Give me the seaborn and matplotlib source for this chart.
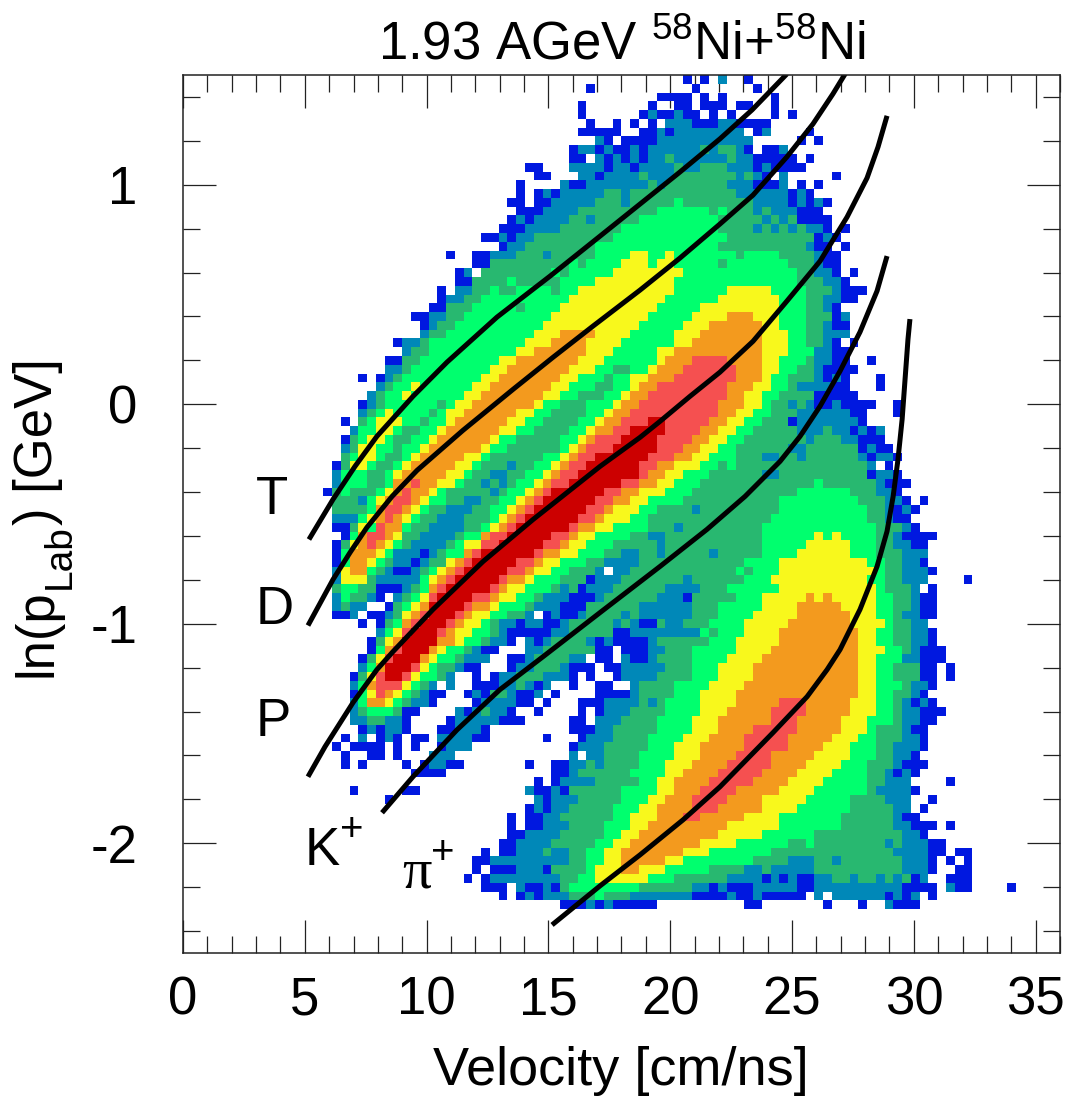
import numpy as np
import matplotlib
matplotlib.use("Agg")
import matplotlib.pyplot as plt
from matplotlib.colors import ListedColormap
import seaborn as sns

# histogram levels per row from the top, "first_bin:level" runs (0 = empty)
row_runs = [
    "57:1 58:0 59:1 60:0 61:2 62:0 64:1 65:0",
    "46:1 47:0 58:1 59:0 65:1 66:0",
    "54:1 58:0 59:1 60:0 61:1 62:0 67:1 68:0",
    "45:1 46:0 53:1 54:0 56:1 58:0 59:1 62:0 63:1 65:0 67:1 68:0",
    "45:1 46:0 52:1 53:2 54:1 56:2 57:1 59:0 60:1 61:0 62:1 63:0 67:1 68:0 69:1 70:0",
    "46:1 47:0 49:1 50:0 51:1 52:0 53:1 54:0 55:2 58:1 61:2 63:1 67:0",
    "45:1 50:0 52:1 54:2 55:1 56:2 64:0 65:1 66:2 67:0 71:1 72:0",
    "47:2 48:1 49:0 50:1 54:2 65:0 70:1 71:0 72:1 73:0",
    "44:1 45:2 47:1 48:2 49:1 51:2 52:1 53:2 59:3 60:2 61:3 63:2 64:1 65:0 66:1 68:2 69:0",
    "44:1 46:0 47:2 48:1 49:2 50:1 51:2 52:1 53:2 55:3 56:2 62:3 63:2 65:1 70:0 71:1 72:0",
    "39:1 41:0 44:2 48:1 49:2 51:1 52:2 56:3 57:2 59:3 62:2 65:1 66:2 67:1 71:0",
    "40:1 42:0 45:2 47:1 48:2 52:3 53:2 56:3 63:2 64:3 65:2 66:1 67:0 68:2 69:0 74:1 75:0",
    "38:1 39:0 43:2 44:1 46:2 53:3 54:2 55:3 62:2 65:1 68:2 69:0 70:1 71:0 72:1 73:0",
    "38:1 39:0 40:1 41:2 42:1 43:2 48:3 50:2 51:3 63:2 69:1 70:2 71:1 72:0",
    "37:1 39:0 40:1 42:2 47:3 50:2 51:3 56:4 57:3 65:2 69:1 70:2 71:1 72:2 73:1 74:0",
    "38:1 41:2 45:3 54:4 60:3 61:4 62:3 65:2 66:3 67:2 70:1 73:0",
    "37:1 38:2 39:1 40:2 44:3 46:2 47:3 52:4 61:3 66:2 67:3 68:2 69:3 70:1 74:0",
    "36:1 39:2 43:3 50:4 61:3 65:2 66:3 67:2 68:3 69:2 70:3 71:2 73:1 74:0 75:1 76:0",
    "34:1 36:2 37:1 38:2 40:3 49:4 62:3 72:1 73:2 74:1 75:0",
    "36:1 37:2 39:3 47:4 61:3 71:2 72:1 74:0 75:1 76:0",
    "30:1 31:0 33:1 35:2 38:3 41:2 42:3 47:4 51:5 53:4 55:5 56:4 63:3 64:4 68:3 72:2 73:1 75:0",
    "33:1 35:3 44:4 45:3 46:4 50:5 53:4 54:5 56:4 61:3 62:4 69:3 72:2 73:1 75:0",
    "31:1 32:2 33:0 34:3 42:4 43:3 44:4 49:5 57:4 70:3 72:2 74:1 75:0 76:1 77:0",
    "31:1 33:3 37:4 38:3 43:4 47:5 56:4 70:3 73:2 75:1 76:0",
    "29:1 30:0 31:2 33:3 35:4 36:3 38:4 42:3 43:4 45:5 56:4 62:5 67:4 71:3 74:2 75:1 78:0",
    "29:1 30:2 32:3 34:4 44:5 55:4 61:5 68:4 71:3 73:2 75:1 77:0",
    "28:1 30:3 33:4 38:3 39:4 43:5 54:4 59:5 68:4 71:3 73:2 74:1 75:0",
    "26:1 28:2 30:3 32:4 42:5 53:4 58:5 62:6 65:5 68:4 71:3 74:1 75:2 76:0",
    "27:1 28:2 29:3 31:4 41:5 52:4 57:5 60:6 66:5 68:4 71:3 73:2 74:1 76:0",
    "27:2 28:3 30:4 40:5 43:6 47:5 51:4 56:5 59:6 66:5 69:4 71:3 73:2 76:0",
    "24:1 25:2 27:3 28:4 39:5 42:6 46:5 50:4 56:5 58:6 66:5 69:4 71:3 73:2 74:1 75:0 76:1 77:0",
    "25:2 26:3 28:4 38:5 40:6 46:5 49:4 54:5 56:6 66:5 69:4 72:2 74:1 76:0",
    "23:1 25:3 27:4 36:5 38:6 45:5 48:4 54:5 55:6 58:7 62:6 66:5 68:4 71:3 72:2 74:1 76:0 78:1 79:0",
    "23:2 25:3 26:4 35:5 37:6 44:5 47:4 49:3 51:4 53:5 54:6 57:7 63:6 66:5 68:4 70:3 72:2 73:1 77:0",
    "20:1 21:0 22:1 23:2 24:3 25:4 34:5 36:6 43:5 45:4 48:3 49:4 51:5 53:6 56:7 63:6 66:5 67:4 69:3 72:2 73:1 74:2 75:1 76:0 79:1 80:0",
    "22:2 23:3 24:4 26:5 27:4 33:5 35:6 42:5 44:4 47:3 49:4 51:5 52:6 54:7 62:6 65:5 67:4 69:3 70:2 74:1 76:0 79:1 80:0",
    "21:2 22:3 23:4 25:5 26:4 32:5 34:6 41:5 43:4 45:3 48:4 50:5 51:6 53:7 62:6 64:5 66:4 68:3 72:1 77:0",
    "20:1 21:2 22:3 23:4 29:3 30:4 31:5 33:6 40:5 41:4 43:3 46:4 49:5 50:6 52:7 61:6 64:5 66:4 67:3 69:2 70:3 71:2 72:1 74:2 75:1 79:0 81:1 82:0",
    "20:2 21:3 22:4 23:5 24:4 28:3 29:4 30:5 32:6 38:5 40:4 42:3 46:4 48:5 49:6 51:7 61:6 63:5 65:4 67:3 70:2 76:1 78:0 81:1 82:0",
    "18:1 19:0 20:3 21:4 22:5 25:4 27:3 28:4 30:5 31:6 37:5 39:4 41:3 45:4 47:5 48:6 50:7 53:8 55:7 60:6 62:5 64:4 66:3 69:1 70:2 77:1 78:0",
    "19:2 20:4 22:5 24:4 25:3 27:4 29:5 30:6 36:5 38:4 40:3 44:4 46:5 47:6 49:7 51:8 55:7 59:6 61:5 63:4 65:3 70:2 73:3 74:2 76:1 77:2 78:1 79:2 80:0",
    "18:1 19:3 20:4 21:5 23:4 24:3 26:4 28:5 29:6 35:5 36:4 38:3 43:4 45:5 46:6 47:7 50:8 54:7 58:6 60:5 62:4 64:3 71:2 72:3 75:2 77:1 80:0",
    "18:2 19:3 20:5 22:4 24:3 25:4 27:5 28:6 34:5 35:4 37:3 43:4 44:5 45:6 46:7 49:8 54:7 57:6 59:5 61:4 63:3 69:2 71:3 77:1 78:2 79:1 81:0",
    "18:3 19:4 20:5 22:4 23:3 25:4 26:5 27:6 32:5 34:4 35:3 41:4 43:5 44:6 45:7 47:8 53:7 56:6 58:5 60:4 63:3 66:2 68:3 70:2 71:3 77:2 78:1 79:2 81:1 82:0",
    "17:1 18:3 19:5 21:4 22:3 24:4 25:5 26:6 31:5 33:4 34:3 37:2 38:3 40:4 42:5 43:6 44:7 46:8 52:7 54:6 56:5 59:4 61:3 62:4 63:3 78:2 79:0 80:1 81:0",
    "17:2 18:4 21:3 23:4 24:5 25:6 30:5 32:4 33:3 35:2 37:3 39:4 41:5 42:6 43:7 45:8 52:7 53:6 55:5 57:4 60:3 66:2 68:3 78:1 79:2 81:1 82:0",
    "17:2 18:4 21:3 23:4 24:6 26:7 27:6 29:5 31:4 32:3 34:2 35:3 36:2 37:3 38:4 40:5 41:6 42:7 44:8 50:7 52:6 54:5 56:4 59:3 72:4 73:3 79:2 80:1 83:0",
    "16:1 17:3 18:4 19:3 22:4 23:5 24:6 25:7 26:6 28:5 29:4 30:3 35:2 36:3 37:4 39:5 40:6 41:7 42:8 48:7 50:6 52:5 55:4 58:3 70:4 76:3 79:2 81:1 82:0",
    "17:3 20:2 21:4 22:5 23:6 24:7 26:6 27:5 28:4 30:3 32:2 34:3 36:4 38:5 39:6 40:7 41:8 47:7 49:6 51:5 53:4 57:3 68:4 77:3 80:2 82:1 83:0 84:1 85:0",
    "17:3 21:4 22:6 23:7 25:6 26:5 27:4 28:3 30:2 33:3 35:4 37:5 38:6 39:7 40:8 46:7 48:6 49:5 52:4 54:3 58:2 59:3 68:4 78:3 80:2 81:1 82:2 83:1 84:0",
    "17:2 20:4 21:5 22:6 23:7 24:6 25:5 26:4 27:3 29:2 32:3 35:4 36:5 37:6 38:7 39:8 45:7 47:6 48:5 51:4 53:3 67:4 78:3 80:2 81:1 83:0",
    "17:1 19:3 20:5 21:4 22:7 23:6 25:4 26:3 28:2 32:3 34:4 35:5 36:6 37:7 38:8 44:7 45:6 47:5 49:4 53:3 56:2 57:3 66:4 79:3 82:2 83:1 84:0",
    "18:1 19:4 20:6 21:7 23:6 24:5 25:3 27:2 31:3 32:4 34:6 35:7 37:8 42:7 44:6 45:5 47:4 51:3 53:2 55:3 66:4 72:5 73:4 74:5 75:4 79:3 81:2 82:1 86:0",
    "17:1 18:3 19:5 20:6 21:7 22:6 23:5 24:4 25:3 26:2 30:3 31:4 32:5 34:7 36:8 41:7 43:6 44:5 46:4 49:3 54:2 55:3 66:4 71:5 76:4 79:3 81:2 83:1 85:0",
    "17:1 18:4 19:6 22:5 23:4 24:2 27:1 28:2 29:3 30:4 32:6 33:7 34:8 40:7 41:6 43:5 45:4 48:3 50:2 52:3 54:2 55:3 60:2 61:3 66:4 70:5 76:4 79:3 82:2 85:0",
    "17:1 18:4 19:6 21:5 22:4 23:3 24:2 26:1 27:2 28:3 30:5 31:6 32:7 33:8 38:7 40:6 41:5 43:4 46:3 48:2 52:3 64:4 68:5 78:4 80:3 82:2 84:1 85:0",
    "17:2 18:5 19:6 21:4 22:3 23:2 24:1 26:2 27:3 28:4 29:5 30:6 31:7 32:8 37:7 39:6 40:5 42:4 44:3 47:2 48:0 49:2 51:3 63:4 64:3 65:4 68:5 79:4 80:3 82:2 85:1 86:0",
    "17:2 18:5 21:3 22:2 27:4 28:5 29:6 30:7 31:8 36:7 37:6 39:5 40:4 43:3 46:1 47:2 50:3 57:2 58:3 64:4 67:5 78:4 80:3 82:2 85:0 89:1 90:0",
    "17:3 18:4 20:3 22:1 25:2 26:3 27:4 28:6 29:7 30:8 35:7 36:6 37:5 39:4 42:3 43:2 44:3 45:1 46:2 49:3 55:2 59:3 62:4 68:5 79:4 80:3 83:2 84:0 85:1 86:0",
    "17:2 18:4 19:3 21:2 22:1 23:0 24:2 25:3 26:4 27:5 28:7 29:8 33:7 35:6 36:5 38:4 40:3 41:2 44:1 47:2 48:3 54:2 57:1 58:3 63:4 66:5 71:6 72:5 73:6 74:5 79:4 81:3 83:2 84:1 86:0",
    "17:2 18:3 19:2 21:0 23:1 24:3 25:4 26:5 27:6 28:8 32:7 33:6 35:5 36:4 39:3 40:2 43:1 46:3 52:2 58:3 61:4 66:5 70:6 75:5 79:4 81:3 83:2 84:1 86:0",
    "17:1 19:2 20:0 21:1 23:2 24:3 25:5 26:6 27:7 28:8 31:7 32:6 33:5 35:4 37:3 39:2 40:0 41:1 42:2 43:1 45:2 46:3 50:2 51:3 52:2 58:3 61:4 65:5 70:6 76:5 79:4 81:3 82:2 84:1 86:0",
    "20:1 21:0 22:1 23:3 24:4 25:6 26:7 27:8 30:7 31:6 32:5 34:4 35:3 36:2 38:1 39:2 41:1 43:2 44:3 49:2 50:3 51:2 52:1 54:3 55:2 57:3 60:4 64:5 69:6 76:5 80:4 81:3 83:2 85:0",
    "22:2 23:4 24:5 25:7 26:8 29:7 30:6 31:5 33:4 35:3 36:2 37:1 42:2 44:3 49:1 51:2 59:4 60:3 61:4 64:5 68:6 77:5 79:4 81:3 83:2 85:1 86:0",
    "21:1 22:3 23:5 24:6 25:8 29:6 31:5 32:4 34:3 35:2 37:1 38:0 39:2 40:1 41:2 42:3 46:2 47:1 48:2 49:1 53:2 54:3 60:4 63:5 68:6 77:5 79:4 81:3 83:2 85:1 86:0",
    "21:1 22:4 23:6 24:7 25:8 28:6 29:5 30:4 32:3 33:2 34:1 36:0 39:2 41:3 47:1 49:0 50:1 53:2 55:3 58:4 63:5 67:6 77:5 80:4 82:3 83:2 84:1 87:0",
    "20:1 21:3 22:5 23:7 24:8 27:6 28:5 29:4 31:3 32:2 35:0 37:1 39:2 40:3 44:2 46:0 47:1 49:0 50:2 51:1 53:2 54:3 58:4 62:5 66:6 77:5 79:4 82:2 84:1 87:0",
    "20:2 21:4 22:6 23:8 26:7 27:5 28:4 29:3 31:2 32:1 34:0 37:1 38:2 40:3 43:2 44:1 47:0 48:1 50:2 55:3 58:4 61:5 65:6 77:5 79:4 81:3 84:1 86:0 87:1 88:0",
    "19:1 20:3 21:5 22:7 23:8 25:7 26:5 27:4 29:3 30:2 31:0 33:1 34:0 35:1 36:2 38:3 41:2 44:1 45:0 46:1 47:0 49:1 50:2 54:3 58:4 61:5 65:6 77:5 79:4 81:3 84:1 86:0 87:1 88:0",
    "19:2 20:4 21:6 22:7 25:5 26:4 27:3 28:2 29:0 30:2 31:0 33:1 36:2 38:3 39:2 40:1 41:2 42:0 44:1 45:0 47:1 49:0 51:2 52:3 56:4 60:5 64:6 77:5 79:4 82:3 83:2 85:1 86:0",
    "19:1 20:4 21:5 22:7 23:6 24:5 25:4 26:3 27:2 28:1 30:0 32:1 33:2 34:1 35:3 37:2 38:1 40:2 41:0 42:1 43:0 47:1 51:2 52:3 56:4 59:5 63:6 77:5 79:4 81:3 83:2 84:1 85:0",
    "19:2 20:4 21:6 23:5 24:4 25:3 26:2 28:1 29:0 33:1 34:2 38:1 40:0 41:1 42:0 45:1 48:2 52:3 53:2 54:3 55:4 59:5 63:6 68:7 71:6 76:5 79:4 81:3 82:2 83:1 84:2 85:1 86:0",
    "19:2 20:3 21:4 24:3 25:1 27:0 31:2 32:1 33:2 34:3 35:2 37:1 38:0 40:1 41:0 45:1 46:0 47:1 48:2 51:3 55:4 59:5 62:6 67:7 71:6 76:5 79:4 81:3 82:2 84:1 87:0",
    "19:2 21:3 23:2 25:1 26:0 30:1 31:2 36:1 39:0 44:1 46:0 47:2 50:3 54:4 58:5 61:6 67:7 70:6 75:5 78:4 81:3 82:2 84:1 86:0",
    "20:1 21:2 22:1 23:2 25:1 26:0 29:1 31:2 34:1 35:0 44:1 47:2 49:3 54:4 58:5 61:6 65:7 70:6 75:5 78:4 79:3 82:2 83:1 85:0",
    "18:1 19:0 20:2 21:0 22:1 23:2 24:1 25:0 26:1 28:0 29:2 33:1 35:0 41:1 42:0 45:1 46:2 49:3 53:4 57:5 60:6 64:7 69:6 74:5 77:4 79:3 82:2 84:1 85:0",
    "17:1 18:0 19:1 23:0 24:1 25:0 26:1 27:0 29:1 30:2 33:0 44:1 45:2 48:3 53:4 56:5 59:6 64:7 69:6 73:5 76:4 79:3 81:2 84:1 85:0",
    "18:1 19:0 21:1 23:0 24:1 25:0 28:2 31:0 44:2 45:0 46:2 48:3 52:4 56:5 59:6 63:7 67:6 72:5 76:4 79:3 81:2 83:1 84:0",
    "18:1 19:0 20:1 21:0 25:1 26:0 27:1 28:2 30:1 32:0 39:1 40:0 42:1 44:2 46:3 47:2 48:3 52:4 55:5 58:6 62:7 67:6 71:5 75:4 78:3 81:2 82:1 85:0",
    "26:1 30:0 42:1 44:2 45:3 51:4 55:5 57:6 61:7 66:6 70:5 74:4 78:3 80:2 81:1 82:2 83:1 84:0",
    "40:1 41:0 42:1 43:2 47:3 52:4 54:5 56:6 60:7 65:6 69:5 73:4 78:3 80:2 83:0 87:1 88:0",
    "19:1 20:0 25:1 27:0 39:2 40:1 42:2 43:1 44:3 50:4 54:5 56:6 59:7 63:6 68:5 72:4 78:3 79:2 83:1 84:0",
    "23:1 24:0 40:2 41:1 42:2 45:3 50:4 53:5 55:6 58:7 62:6 66:5 71:4 76:3 80:2 83:0 85:1 86:0",
    "39:1 40:2 41:1 42:2 44:3 49:4 52:5 54:6 58:7 61:6 66:5 70:4 76:3 81:2 83:0 84:1 85:0",
    "37:1 38:0 39:1 41:2 43:3 49:4 51:5 54:6 57:7 59:6 64:5 68:4 75:3 81:2 82:1 84:0",
    "37:1 38:0 39:1 41:2 44:3 48:4 51:5 53:6 62:5 68:4 75:3 81:2 83:1 86:0 87:1 88:0",
    "37:1 39:2 43:3 48:4 50:5 52:6 61:5 66:4 72:3 82:2 84:1 85:0",
    "36:1 38:2 42:3 47:4 49:5 51:6 59:5 63:4 69:3 71:4 72:3 80:2 81:3 82:2 85:1 87:0",
    "34:1 35:0 36:1 38:2 41:3 42:2 44:3 46:4 48:5 50:6 57:5 60:4 67:3 81:2 85:1 87:0 88:1 90:0",
    "33:1 35:2 44:3 46:4 48:5 50:6 55:5 57:4 65:3 69:2 72:3 74:2 75:3 82:2 85:1 86:0 87:1 88:0 89:1 90:0",
    "33:1 34:0 35:1 38:2 41:1 42:3 46:4 47:5 50:6 52:5 55:4 60:3 64:2 66:3 67:2 72:3 82:2 85:1 86:0 88:1 90:0",
    "32:1 33:0 34:1 35:2 43:3 45:4 47:5 53:4 56:3 62:2 66:1 67:2 68:1 69:2 70:1 72:2 74:3 76:2 77:3 79:2 80:3 81:2 82:3 83:1 84:2 85:0 87:1 90:0",
    "34:1 37:0 38:2 39:1 41:2 42:1 43:3 44:4 52:3 58:2 60:1 61:2 62:1 65:2 70:1 72:2 82:1 86:0 87:2 88:1 90:0 94:1 95:0",
    "36:1 37:0 38:1 39:2 40:1 41:2 44:3 47:4 48:3 51:2 58:1 62:2 63:1 65:2 66:1 71:0 72:2 73:0 74:2 80:1 81:2 82:1 83:2 84:0 85:1 86:0",
    "43:1 46:2 47:1 48:2 49:1 54:0 64:1 66:0 73:1 74:0 77:1 78:0 80:2 81:1 84:0",
]
level_colors = ["#0018E0", "#0088B8", "#28B870", "#00FF6E", "#F8F81C", "#F39A1E", "#F55050", "#CC0000"]

# calibration curves
t_v = [5.17, 6.16, 7.06, 7.96, 9.44, 10.84, 12.89, 15.07, 17.12, 18.76, 20.40, 22.04, 23.36, 24.79]
t_p = [-0.616, -0.433, -0.283, -0.146, 0.036, 0.192, 0.397, 0.584, 0.766, 0.912, 1.058, 1.209, 1.341, 1.505]
d_v = [5.13, 6.16, 6.86, 7.55, 8.58, 9.61, 11.49, 13.55, 15.19, 16.83, 18.76, 20.40, 22.04, 23.40, 24.79, 25.86, 26.68, 27.18]
d_p = [-1.008, -0.798, -0.675, -0.561, -0.420, -0.301, -0.119, 0.068, 0.214, 0.356, 0.520, 0.666, 0.821, 0.953, 1.127, 1.277, 1.414, 1.505]
p_v = [5.13, 5.83, 6.98, 7.96, 8.62, 10.26, 12.32, 14.37, 17.12, 18.76, 19.58, 20.81, 22.04, 23.40, 24.79, 26.15, 27.26, 28.08, 28.53, 28.90]
p_p = [-1.697, -1.560, -1.359, -1.209, -1.127, -0.935, -0.716, -0.525, -0.283, -0.151, -0.078, 0.036, 0.146, 0.287, 0.470, 0.652, 0.853, 1.031, 1.172, 1.314]
k_v = [8.17, 9.44, 11.25, 13.01, 14.78, 17.12, 19.58, 21.51, 23.07, 24.51, 25.33, 26.15, 26.97, 27.79, 28.49, 28.90]
k_p = [-1.861, -1.697, -1.483, -1.300, -1.150, -0.949, -0.739, -0.570, -0.420, -0.260, -0.146, -0.009, 0.151, 0.329, 0.516, 0.675]
pi_v = [15.15, 17.12, 18.76, 20.53, 22.04, 24.22, 25.62, 26.44, 26.97, 27.79, 28.49, 28.90, 29.15, 29.35, 29.52, 29.64, 29.76, 29.84]
pi_p = [-2.372, -2.194, -2.053, -1.893, -1.743, -1.496, -1.332, -1.209, -1.118, -0.935, -0.739, -0.579, -0.420, -0.251, -0.068, 0.114, 0.296, 0.388]

x_major = [0, 5, 10, 15, 20, 25, 30, 35]
y_major = [1, 0, -1, -2]
y_labels = ["1", "0", "-1", "-2"]

sns.set_style("white")
plt.rcParams["font.family"] = ["Liberation Sans", "DejaVu Sans"]
plt.rcParams["mathtext.fontset"] = "custom"
plt.rcParams["mathtext.rm"] = "Liberation Sans"
plt.rcParams["mathtext.default"] = "rm"
plt.rcParams["text.color"] = "black"

# axis range -> heatmap bin position
NBINS = 100
def to_col(v):
    return np.asarray(v, dtype=float) / 36 * NBINS
def to_row(y):
    return (1.5 - np.asarray(y, dtype=float)) / 4 * NBINS

# unpack runs into the histogram
hist = np.zeros((NBINS, NBINS))
for r, line in enumerate(row_runs):
    pairs = [tok.split(":") for tok in line.split()]
    for (c0, lev), (c1, _) in zip(pairs, pairs[1:]):
        hist[r, int(c0):int(c1)] = int(lev)

W, H = 1070, 1101
fig = plt.figure(figsize=(W / 100, H / 100), dpi=100)
ax = fig.add_axes([183 / W, 1 - 953 / H, 877 / W, 878 / H])
sns.heatmap(hist, mask=hist == 0, cmap=ListedColormap(level_colors), vmin=0.5, vmax=8.5,
            cbar=False, xticklabels=False, yticklabels=False, ax=ax)

for vs, ps in [(t_v, t_p), (d_v, d_p), (p_v, p_p), (k_v, k_p), (pi_v, pi_p)]:
    sns.lineplot(x=to_col(vs), y=to_row(ps), sort=False, estimator=None, color="black", lw=3.6,
                 solid_joinstyle="round", solid_capstyle="butt", ax=ax)

ax.set_xlim(0, NBINS)
ax.set_ylim(NBINS, 0)
for s in ax.spines.values():
    s.set_visible(True)
    s.set_linewidth(1.1)
    s.set_color("#222222")

ax.set_xticks(to_col(x_major))
ax.set_xticklabels([str(v) for v in x_major])
ax.set_yticks(to_row(y_major))
ax.set_yticklabels(y_labels)
ax.set_xticks(to_col(np.arange(0, 37)), minor=True)
ax.set_yticks(to_row(np.arange(-24, 15) / 10)[::2], minor=True)
ax.tick_params(which="major", direction="in", length=23.8, width=0.9, top=True, right=True,
               bottom=True, left=True, labelsize=38, labelcolor="black", color="#222222")
ax.tick_params(axis="x", which="major", pad=16)
ax.tick_params(axis="y", which="major", pad=33, labelrotation=0)
ax.tick_params(which="minor", direction="in", length=12, width=0.9, top=True, right=True,
               bottom=True, left=True, color="#222222")

ax.set_title("1.93 AGeV $^{58}$Ni+$^{58}$Ni", fontsize=38, pad=11.5, color="black")
fig.text(621 / W, 1 - 1085 / H, "Velocity [cm/ns]", fontsize=39, ha="center", va="baseline")

# y label in pieces, the subscript hangs lower than mathtext puts it
for txt, bx, by, fs in [("ln(p", 52, 677, 38), ("Lab", 70, 589, 28), (") [GeV]", 52, 525, 38)]:
    fig.text(bx / W, 1 - by / H, txt, fontsize=fs, rotation=90, rotation_mode="anchor",
             ha="left", va="baseline")

for label, px, py in [("T", 256, 514), ("D", 256, 624), ("P", 256, 736), ("K", 305, 865)]:
    fig.text(px / W, 1 - py / H, label, fontsize=38, ha="left", va="baseline")
fig.text(340 / W, 1 - 841 / H, "+", fontsize=29, ha="left", va="baseline")
fig.text(402 / W, 1 - 888 / H, "\u03c0", fontsize=42, family=["Liberation Serif"], ha="left", va="baseline")
fig.text(431 / W, 1 - 864 / H, "+", fontsize=29, ha="left", va="baseline")

fig.savefig("out.png", dpi=100)
